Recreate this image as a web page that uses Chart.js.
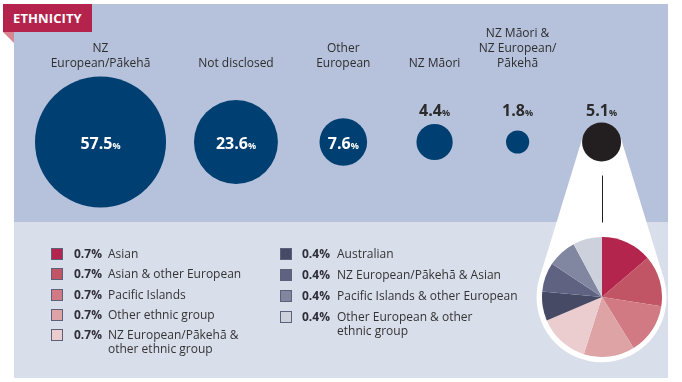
<!DOCTYPE html>
<html><head><meta charset="utf-8">
<script src="https://cdn.jsdelivr.net/npm/chart.js@4/dist/chart.umd.min.js"></script>
<style>
html,body{margin:0;padding:0;background:#fff;}
#wrap{position:relative;width:682px;height:382px;overflow:hidden;font-family:"Open Sans",sans-serif;color:#2d2d2d;}
#top{position:absolute;left:14px;top:4px;width:654px;height:218px;background:#b6c2dc;}
#bottom{position:absolute;left:14px;top:222px;width:654px;height:156px;background:#d9deeb;}
#tab{position:absolute;left:3px;top:4px;width:89px;height:28px;background:#b3234c;color:#fff;font-weight:700;font-size:13px;line-height:28px;padding-left:10px;box-sizing:border-box;letter-spacing:0.1px;}
#fold{position:absolute;left:3px;top:32px;width:0;height:0;border-top:11px solid #d78493;border-left:11px solid transparent;}
canvas{position:absolute;}
.cat{position:absolute;width:200px;text-align:center;font-size:12px;line-height:15px;color:#2d2d2d;}
.val{position:absolute;width:100px;text-align:center;font-size:16px;font-weight:700;line-height:20px;}
.val span{font-size:9px;}
.lg{position:absolute;font-size:12px;line-height:14px;color:#333;}
.lg .sq{position:absolute;left:0;top:1px;width:12px;height:12px;box-sizing:border-box;border:1px solid #5c6079;}
.lg .pv{position:absolute;font-weight:700;color:#2e2e38;}
.lg .pl{position:absolute;white-space:pre;}
</style></head>
<body>
<div id="wrap">
  <div id="top"></div>
  <div id="bottom"></div>
  <div id="tab">ETHNICITY</div>
  <div id="fold"></div>
  <canvas id="bub" width="682" height="382" style="left:0;top:0;"></canvas>
  <canvas id="pie" width="120" height="120"></canvas>
</div>
<script>
// ---- data ----
const categories = [
  ["NZ", "European/Pākehā"],
  ["Not disclosed"],
  ["Other", "European"],
  ["NZ Māori"],
  ["NZ Māori &", "NZ European/", "Pākehā"],
  []
];
const values = [57.5, 23.6, 7.6, 4.4, 1.8, 5.1];
const breakdownLabels = [
  "Asian",
  "Asian & other European",
  "Pacific Islands",
  "Other ethnic group",
  "NZ European/Pākehā &\nother ethnic group",
  "Australian",
  "NZ European/Pākehā & Asian",
  "Pacific Islands & other European",
  "Other European & other\nethnic group"
];
const breakdownValues = [0.7, 0.7, 0.7, 0.7, 0.7, 0.4, 0.4, 0.4, 0.4];

// ---- styles ----
const bubbleColors = ["#003f71", "#003f71", "#003f71", "#003f71", "#003f71", "#231f20"];
const pieColors = ["#b3254d", "#c15566", "#d17a83", "#dea3a5", "#eccdcf", "#464a65", "#5f6381", "#8287a1", "#cdd1dc"];
const pxPerSqrt = 8.64;      // circle area proportional to value
const pieCenterY = 297.3, pieRadius = 60, ringRadius = 65;

// ---- layout derived from values ----
const radii = values.map(v => pxPerSqrt * Math.sqrt(v));
const xs = [];
radii.forEach((r, i) => xs.push(i === 0 ? 35 + r : xs[i - 1] + 63 + 0.674 * (radii[i - 1] + r)));

const funnel = {
  id: 'funnel',
  beforeDatasetsDraw(chart) {
    const n = values.length - 1;
    const el = chart.getDatasetMeta(0).data[n];
    const cx = el.x, cy = el.y, r1 = radii[n], R = ringRadius, py = pieCenterY;
    const th = Math.asin((R - r1) / (py - cy));
    const c = Math.cos(th), s = Math.sin(th);
    const ctx = chart.ctx;
    ctx.save();
    ctx.fillStyle = '#ffffff';
    ctx.beginPath();
    ctx.moveTo(cx - r1 * c, cy - r1 * s);
    ctx.lineTo(cx + r1 * c, cy - r1 * s);
    ctx.lineTo(cx + R * c, py - R * s);
    ctx.lineTo(cx - R * c, py - R * s);
    ctx.closePath();
    ctx.fill();
    ctx.beginPath();
    ctx.arc(cx, py, R, 0, Math.PI * 2);
    ctx.fill();
    ctx.strokeStyle = '#231f20';
    ctx.lineWidth = 1;
    ctx.beginPath();
    const lx = Math.round(cx) + 0.5;
    ctx.moveTo(lx, cy + r1 + 14);
    ctx.lineTo(lx, 222.5);
    ctx.stroke();
    ctx.restore();
  }
};

const main = new Chart(document.getElementById('bub'), {
  type: 'bubble',
  data: { datasets: [{
    data: values.map((v, i) => ({ x: xs[i], y: 0, r: radii[i] })),
    backgroundColor: bubbleColors,
    borderWidth: 0,
    hoverBorderWidth: 0,
    hoverRadius: 0,
    clip: false
  }]},
  options: {
    responsive: false, animation: false, events: [],
    layout: { autoPadding: false, padding: { left: 0, right: 0, top: 0, bottom: 98 } },
    scales: {
      x: { type: 'linear', min: 0, max: 682, display: false },
      y: { type: 'linear', min: -1, max: 1, display: false }
    },
    plugins: { legend: { display: false }, tooltip: { enabled: false } }
  },
  plugins: [funnel]
});

const wrap = document.getElementById('wrap');
const meta = main.getDatasetMeta(0);
meta.data.forEach((el, i) => {
  if (categories[i].length) {
    const d = document.createElement('div');
    d.className = 'cat';
    d.style.left = (el.x - 100) + 'px';
    d.style.bottom = (382 - 70.2) + 'px';
    d.innerHTML = categories[i].join('<br>');
    wrap.appendChild(d);
  }
  const v = document.createElement('div');
  v.className = 'val';
  v.style.left = (el.x - 50) + 'px';
  const inside = radii[i] > 22;
  v.style.top = (inside ? el.y - 9 : 100) + 'px';
  v.style.color = inside ? '#ffffff' : '#2b2b2b';
  v.innerHTML = values[i].toFixed(1) + '<span>%</span>';
  wrap.appendChild(v);
});

// pie
const last = meta.data[values.length - 1];
const pc = document.getElementById('pie');
pc.style.left = (last.x - pieRadius) + 'px';
pc.style.top = (pieCenterY - pieRadius) + 'px';
new Chart(pc, {
  type: 'pie',
  data: { labels: breakdownLabels, datasets: [{
    data: breakdownValues, backgroundColor: pieColors,
    borderWidth: 0, hoverOffset: 0, offset: 0
  }]},
  options: {
    responsive: false, animation: false, events: [],
    layout: { padding: 0 },
    plugins: { legend: { display: false }, tooltip: { enabled: false } }
  }
});

// legend
const col1 = { sq: 51, pv: 74, pl: 108, top: 253.7, step: 20.4 };
const col2 = { sq: 280, pv: 302, pl: 337, top: 254, step: 20.9 };
breakdownLabels.forEach((lab, i) => {
  const c = breakdownValues[i] >= 0.7 ? col1 : col2;
  const row = c === col1 ? i : i - 5;
  const d = document.createElement('div');
  d.className = 'lg';
  d.style.left = c.sq + 'px';
  d.style.top = (c.top + c.step * row - 7) + 'px';
  d.innerHTML = '<div class="sq" style="background:' + pieColors[i] + '"></div>' +
    '<div class="pv" style="left:' + (c.pv - c.sq) + 'px">' + breakdownValues[i].toFixed(1) + '%</div>' +
    '<div class="pl" style="left:' + (c.pl - c.sq) + 'px"></div>';
  d.querySelector('.pl').textContent = lab;
  wrap.appendChild(d);
});
</script>
</body></html>
